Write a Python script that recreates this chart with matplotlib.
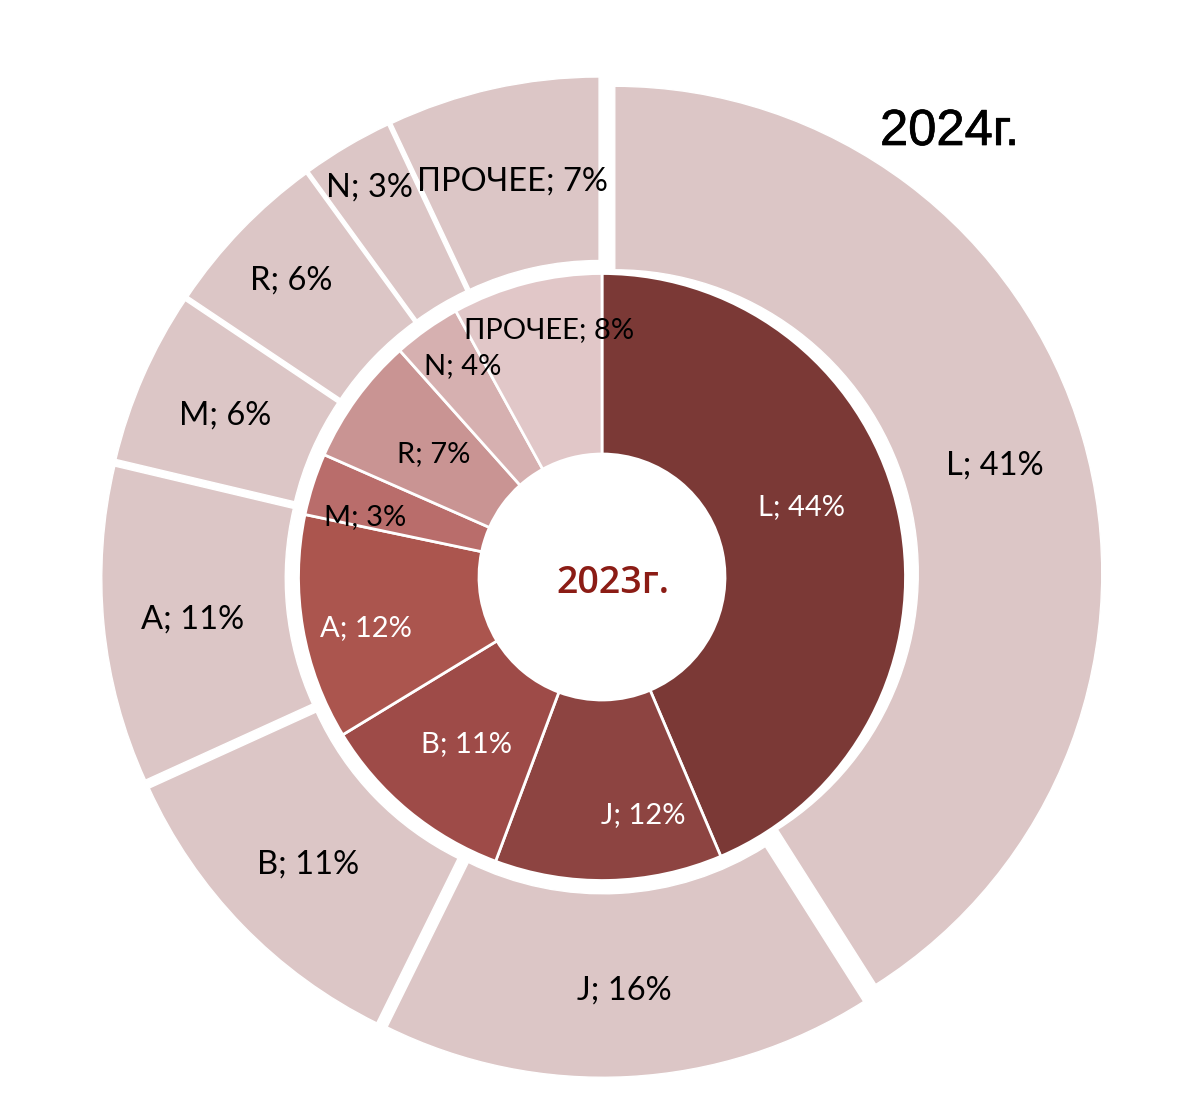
import numpy as np
import matplotlib.pyplot as plt
import matplotlib.patheffects as pe

categories = ['L', 'J', 'B', 'A', 'M', 'R', 'N', 'ПРОЧЕЕ']

share_2023 = [43.6, 12.1, 10.6, 12.0, 3.3, 6.8, 3.6, 8.0]
share_2024 = [41.0, 16.3, 10.9, 10.5, 5.7, 5.6, 3.0, 7.0]
pct_2023 = [44, 12, 11, 12, 3, 7, 4, 8]
pct_2024 = [41, 16, 11, 11, 6, 6, 3, 7]

colors_2023 = ['#7b3936', '#8d4441', '#9e4b48', '#ab554e',
               '#b96d6b', '#c99493', '#d6b0b0', '#e1c7c8']
color_2024 = '#dcc6c6'
text_2023 = ['white'] * 4 + ['black'] * 4

# label placement tweaks (radius from slice centre, angle nudge in degrees)
lab_r_2023 = [212, 239, 213, 241, 245, 210, 255, 256]
lab_dt_2023 = [-8.6, -8.8, 0, -1.8, -2.9, 0.8, 2.2, 2.4]
lab_r_2024 = [396, 398, 396, 398, 398, 418, 443, 395]
lab_dt_2024 = [0] * 8

W, H = 1180, 1108
cx, cy = 602, H - 577
r_hole, r_mid, r_out = 123, 303.5, 487
explode = 13.3

font = ['Lato', 'DejaVu Sans']

fig = plt.figure(figsize=(W / 100, H / 100), dpi=100)
ax = fig.add_axes([0, 0, 1, 1])

ax.pie(share_2024, radius=r_out, center=(cx, cy), startangle=90,
       counterclock=False, explode=[explode] * len(share_2024),
       colors=[color_2024] * len(share_2024),
       wedgeprops=dict(width=r_out - r_mid, edgecolor='white', linewidth=1))
ax.pie(share_2023, radius=r_mid, center=(cx, cy), startangle=90,
       counterclock=False, colors=colors_2023,
       wedgeprops=dict(width=r_mid - r_hole, edgecolor='white', linewidth=2))

ax.set_xlim(0, W)
ax.set_ylim(0, H)
ax.axis('off')


def label_ring(shares, pcts, radii, nudges, shift, size, cap, colors):
    edges = np.concatenate([[0], np.cumsum(shares)]) / sum(shares) * 360
    for i, cat in enumerate(categories):
        mid = (edges[i] + edges[i + 1]) / 2
        a = np.radians(90 - mid)
        b = np.radians(90 - mid - nudges[i])
        x = cx + shift * np.cos(a) + radii[i] * np.cos(b)
        y = cy + shift * np.sin(a) + radii[i] * np.sin(b)
        ax.text(x, y - cap / 2, f'{cat}; {pcts[i]}%', ha='center',
                va='baseline', fontsize=size, color=colors[i], family=font)


label_ring(share_2024, pct_2024, lab_r_2024, lab_dt_2024, explode, 23.5, 24,
           ['black'] * 8)
label_ring(share_2023, pct_2023, lab_r_2023, lab_dt_2023, 0, 21, 22,
           text_2023)

ax.text(880, H - 145, '2024г.', ha='left', va='baseline', fontsize=36.5,
        family=['Liberation Sans', 'DejaVu Sans'], color='black',
        path_effects=[pe.withStroke(linewidth=0.5, foreground='black')])
ax.text(613, H - 593, '2023г.', ha='center', va='baseline', fontsize=27,
        family=['Open Sans', 'DejaVu Sans'], color='#8b1c15',
        fontweight='semibold')

fig.savefig('out.png', dpi=100)
